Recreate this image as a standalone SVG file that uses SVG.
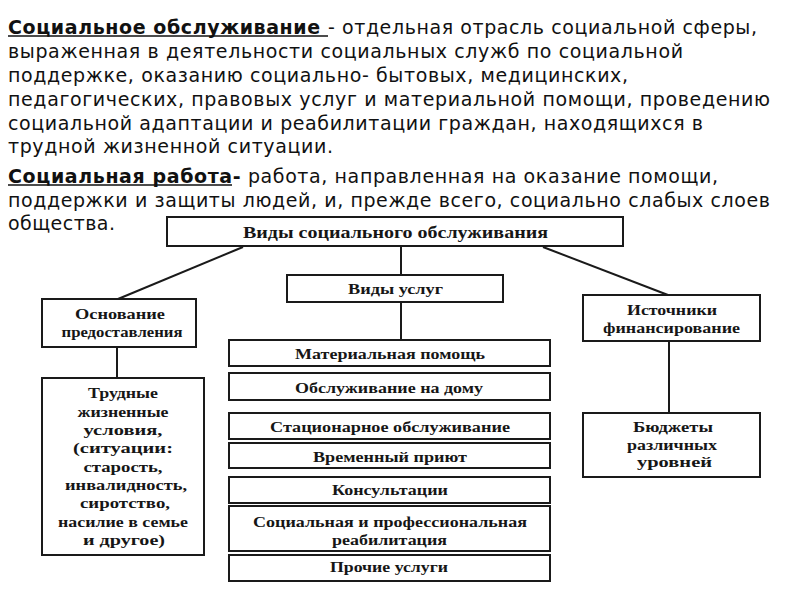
<svg xmlns="http://www.w3.org/2000/svg" width="800" height="600" viewBox="0 0 800 600">
<style>
.p{font-family:"DejaVu Sans",sans-serif;font-size:19px;fill:#111}
.b{font-weight:bold}
.box{fill:#fff;stroke:#1a1a1a;stroke-width:2}
.t{font-family:"Liberation Serif","Times New Roman",serif;font-weight:bold;font-size:15px;fill:#161616;text-anchor:middle}
.r{font-size:16.5px}
.c line{stroke:#1a1a1a;stroke-width:2}
.ul{stroke:#111;stroke-width:1.6}
</style>
<rect width="800" height="600" fill="#fff"/>
<g id="paragraphs">
<text class="p" x="8" y="34" textLength="749" lengthAdjust="spacing"><tspan class="b">Социальное обслуживание </tspan>- отдельная отрасль социальной сферы,</text>
<text class="p" x="8" y="58" textLength="675" lengthAdjust="spacing">выраженная в деятельности социальных служб по социальной</text>
<text class="p" x="8" y="82" textLength="620" lengthAdjust="spacing">поддержке, оказанию социально- бытовых, медицинских,</text>
<text class="p" x="8" y="106" textLength="762" lengthAdjust="spacing">педагогических, правовых услуг и материальной помощи, проведению</text>
<text class="p" x="8" y="130" textLength="695" lengthAdjust="spacing">социальной адаптации и реабилитации граждан, находящихся в</text>
<text class="p" x="8" y="153" textLength="325" lengthAdjust="spacing">трудной жизненной ситуации.</text>
<text class="p" x="8" y="183" textLength="710" lengthAdjust="spacing"><tspan class="b">Социальная работа-</tspan> работа, направленная на оказание помощи,</text>
<text class="p" x="8" y="207" textLength="762" lengthAdjust="spacing">поддержки и защиты людей, и, прежде всего, социально слабых слоев</text>
<text class="p" x="8" y="230" textLength="107" lengthAdjust="spacing">общества.</text>
<line class="ul" x1="8" y1="36" x2="328" y2="36"/>
<line class="ul" x1="8" y1="185" x2="232" y2="185"/>
</g>
<g class="c" id="connectors">
<line x1="401" y1="246" x2="401" y2="275"/>
<line x1="401" y1="302" x2="401" y2="340"/>
<line x1="243" y1="247" x2="118" y2="299"/>
<line x1="543" y1="247" x2="668" y2="295"/>
<line x1="117" y1="347" x2="117" y2="378"/>
<line x1="669" y1="341" x2="669" y2="413"/>
</g>
<g id="n-root"><rect class="box" x="167" y="217" width="456" height="29"/><text class="t r" x="395.5" y="238" textLength="305" lengthAdjust="spacingAndGlyphs">Виды социального обслуживания</text></g>
<g id="n-services"><rect class="box" x="287" y="275" width="216" height="27"/><text class="t" x="395.5" y="294" textLength="95" lengthAdjust="spacingAndGlyphs">Виды услуг</text></g>
<g id="n-basis"><rect class="box" x="42" y="299" width="154" height="48"/><text class="t" x="120" y="319" textLength="90" lengthAdjust="spacingAndGlyphs">Основание</text><text class="t" x="122" y="337" textLength="121" lengthAdjust="spacingAndGlyphs">предоставления</text></g>
<g id="n-difficult"><rect class="box" x="42" y="378" width="162" height="177"/>
<text class="t" x="123" y="398" textLength="70" lengthAdjust="spacingAndGlyphs">Трудные</text>
<text class="t" x="123" y="417" textLength="91" lengthAdjust="spacingAndGlyphs">жизненные</text>
<text class="t" x="123" y="435" textLength="79" lengthAdjust="spacingAndGlyphs">условия,</text>
<text class="t" x="123" y="453" textLength="100" lengthAdjust="spacingAndGlyphs">(ситуации:</text>
<text class="t" x="123" y="472" textLength="79" lengthAdjust="spacingAndGlyphs">старость,</text>
<text class="t" x="126" y="490" textLength="122" lengthAdjust="spacingAndGlyphs">инвалидность,</text>
<text class="t" x="125" y="508" textLength="90" lengthAdjust="spacingAndGlyphs">сиротство,</text>
<text class="t" x="123" y="527" textLength="130" lengthAdjust="spacingAndGlyphs">насилие в семье</text>
<text class="t" x="124" y="545" textLength="82" lengthAdjust="spacingAndGlyphs">и другое)</text>
</g>
<g id="n-sources"><rect class="box" x="583" y="295" width="177" height="46"/><text class="t" x="672" y="315" textLength="90" lengthAdjust="spacingAndGlyphs">Источники</text><text class="t" x="671.5" y="333" textLength="137" lengthAdjust="spacingAndGlyphs">финансирование</text></g>
<g id="n-budgets"><rect class="box" x="583" y="413" width="177" height="64"/><text class="t" x="673" y="432" textLength="80" lengthAdjust="spacingAndGlyphs">Бюджеты</text><text class="t" x="672" y="450" textLength="90" lengthAdjust="spacingAndGlyphs">различных</text><text class="t" x="674.5" y="467" textLength="75" lengthAdjust="spacingAndGlyphs">уровней</text></g>
<g id="n-material"><rect class="box" x="229" y="340" width="321" height="26"/><text class="t" x="390" y="359" textLength="190" lengthAdjust="spacingAndGlyphs">Материальная помощь</text></g>
<g id="n-home"><rect class="box" x="229" y="373" width="321" height="27"/><text class="t" x="389" y="393" textLength="188" lengthAdjust="spacingAndGlyphs">Обслуживание на дому</text></g>
<g id="n-stationary"><rect class="box" x="229" y="413" width="321" height="26"/><text class="t" x="390" y="432" textLength="240" lengthAdjust="spacingAndGlyphs">Стационарное обслуживание</text></g>
<g id="n-shelter"><rect class="box" x="229" y="443" width="321" height="25"/><text class="t" x="390" y="462" textLength="154" lengthAdjust="spacingAndGlyphs">Временный приют</text></g>
<g id="n-consult"><rect class="box" x="229" y="477" width="321" height="26"/><text class="t" x="390" y="495" textLength="116" lengthAdjust="spacingAndGlyphs">Консультации</text></g>
<g id="n-rehab"><rect class="box" x="229" y="506" width="321" height="45"/><text class="t" x="390" y="527" textLength="274" lengthAdjust="spacingAndGlyphs">Социальная и профессиональная</text><text class="t" x="389.5" y="545" textLength="115" lengthAdjust="spacingAndGlyphs">реабилитация</text></g>
<g id="n-other"><rect class="box" x="229" y="555" width="321" height="26"/><text class="t" x="389" y="572" textLength="118" lengthAdjust="spacingAndGlyphs">Прочие услуги</text></g>
</svg>
